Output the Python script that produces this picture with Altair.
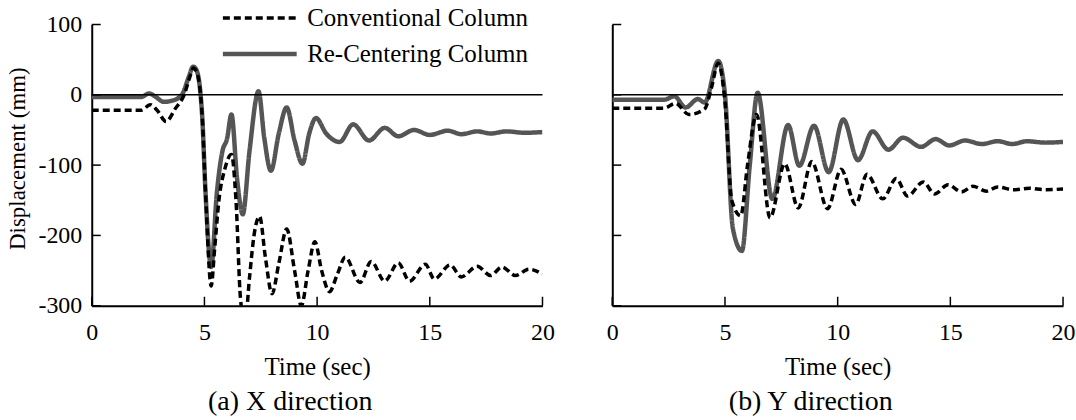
import altair as alt
import pandas as pd

FONT = "Liberation Serif, Times New Roman, serif"
CONV = "Conventional Column"
RC = "Re-Centering Column"

# ---- (a) X direction ----
ax_rc_t = [0, 2.2, 2.55, 2.8, 3.2, 3.6, 4.0, 4.3, 4.5, 4.65, 4.9, 5.05, 5.3, 5.55, 5.8, 6.0, 6.2, 6.45, 6.7,
           7.0, 7.4, 7.65, 7.95, 8.3, 8.65, 9.0, 9.35, 9.65, 9.95, 10.4, 11.0, 11.6, 12.3, 13.0, 13.6,
           14.3, 15.0, 15.8, 16.4, 17.1, 17.7, 18.4, 19.2, 20]
ax_rc_v = [-3, -3, 2, -2, -10, -8, 0, 25, 40, 35, -30, -140, -245, -140, -80, -63, -28, -120, -170,
           -80, 5, -60, -108, -55, -18, -65, -98, -55, -33, -55, -67, -42, -65, -47, -59,
           -50, -57, -51, -56, -52, -55, -52, -54, -53]

ax_cc_t = [0, 2.2, 2.6, 2.9, 3.3, 3.7, 4.1, 4.4, 4.5, 4.65, 4.9, 5.05, 5.3, 5.45, 5.65, 5.9, 6.2, 6.4,
           6.6, 6.8, 7.0, 7.2, 7.45, 7.7, 8.0, 8.3, 8.65, 9.0, 9.3, 9.6, 9.9, 10.2, 10.55, 10.9, 11.25,
           11.9, 12.4, 13.0, 13.6, 14.1, 14.8, 15.2, 15.9, 16.4, 17.1, 17.7, 18.2, 18.8, 19.4, 20]
ax_cc_v = [-22, -22, -14, -22, -38, -20, 0, 30, 38, 33, -30, -140, -272, -220, -148, -106, -85, -150,
           -290, -325, -260, -200, -173, -230, -283, -240, -191, -250, -300, -250, -209, -250, -280, -255, -231,
           -267, -237, -265, -239, -265, -241, -262, -242, -259, -244, -257, -245, -257, -248, -255]

# ---- (b) Y direction ----
by_rc_t = [0, 2.3, 2.75, 3.25, 3.8, 4.1, 4.7, 5.0, 5.35, 5.75, 6.1, 6.45, 7.1, 7.8, 8.3, 8.95, 9.6,
           10.25, 10.9, 11.55, 12.25, 12.9, 13.7, 14.35, 14.95, 15.65, 16.4, 17.1, 17.75, 18.4, 19.2, 20]
by_rc_v = [-7, -7, -2, -18, -6, -11, 48, 0, -190, -222, -100, 3, -148, -43, -101, -44, -110,
           -35, -93, -52, -78, -61, -74, -63, -72, -65, -70, -66, -70, -66, -68, -67]

by_cc_t = [0, 2.3, 2.8, 3.4, 4.1, 4.4, 4.7, 5.0, 5.3, 5.7, 6.0, 6.4, 7.0, 7.65, 8.25, 8.85, 9.55,
           10.15, 10.8, 11.3, 12.0, 12.6, 13.1, 13.8, 14.3, 14.9, 15.5, 16.0, 16.6, 17.1, 17.8, 18.5, 19.2, 20]
by_cc_v = [-19, -19, -12, -28, -20, 10, 45, -10, -150, -172, -100, -28, -175, -98, -161, -95, -162,
           -106, -156, -113, -148, -119, -144, -124, -141, -128, -138, -130, -137, -131, -135, -133, -135, -134]

x_ticks = [0, 5, 10, 15, 20]
y_ticks = [100, 0, -100, -200, -300]
zero_line = [0]

W, H = 452, 282


def frame(t_rc, v_rc, t_cc, v_cc):
    rows = [{"t": t, "v": v, "series": RC} for t, v in zip(t_rc, v_rc)]
    rows += [{"t": t, "v": v, "series": CONV} for t, v in zip(t_cc, v_cc)]
    return pd.DataFrame(rows)


def panel(df, title, left):
    xscale = alt.Scale(domain=[0, 20], nice=False, zero=False)
    yscale = alt.Scale(domain=[-300, 100], nice=False, zero=False)
    xaxis = alt.Axis(values=x_ticks, title="Time (sec)")
    if left:
        yaxis = alt.Axis(values=y_ticks, title="Displacement (mm)", titleY=134,
                         labelExpr="replace(datum.label, '\u2212', '-')")
        legend = alt.Legend(orient="none", legendX=156, legendY=-19, title=None,
                            symbolType="M-7.4,0H7.4", symbolSize=100, symbolStrokeWidth=2.5,
                            labelFont=FONT, labelFontSize=25, labelColor="black", labelOffset=35,
                            labelLimit=0, rowPadding=10, padding=0)
    else:
        yaxis = alt.Axis(values=y_ticks, labels=False, title=None)
        legend = None

    dom = [CONV, RC]
    lines = alt.Chart(df).mark_line(interpolate="monotone", clip=True).encode(
        x=alt.X("t:Q", scale=xscale, axis=xaxis),
        y=alt.Y("v:Q", scale=yscale, axis=yaxis),
        color=alt.Color("series:N", scale=alt.Scale(domain=dom, range=["black", "#555555"]), legend=legend),
        strokeDash=alt.StrokeDash("series:N", scale=alt.Scale(domain=dom, range=[[7, 4], [1, 0]]), legend=legend),
        strokeWidth=alt.StrokeWidth("series:N", scale=alt.Scale(domain=dom, range=[3.5, 4.5]), legend=None),
        order=alt.Order("series:N", sort="ascending"),
    )
    zero = alt.Chart(pd.DataFrame({"v": zero_line})).mark_rule(color="black", strokeWidth=1.5).encode(
        y=alt.Y("v:Q", scale=yscale, axis=yaxis))
    yt = alt.Chart(pd.DataFrame({"v": y_ticks})).mark_rule(color="black", strokeWidth=1.5).encode(
        y=alt.Y("v:Q", scale=yscale, axis=yaxis), x=alt.value(0), x2=alt.value(9))
    xt = alt.Chart(pd.DataFrame({"t": x_ticks})).mark_rule(color="black", strokeWidth=1.5).encode(
        x=alt.X("t:Q", scale=xscale, axis=xaxis), y=alt.value(H), y2=alt.value(H - 9))

    return alt.layer(lines, zero, yt, xt).properties(
        width=W, height=H,
        title=alt.TitleParams(title, orient="bottom", anchor="middle", frame="group", font=FONT,
                              fontSize=28, fontWeight="normal", color="black", dx=-27, offset=9),
    )


left = panel(frame(ax_rc_t, ax_rc_v, ax_cc_t, ax_cc_v), "(a) X direction", True)
right = panel(frame(by_rc_t, by_rc_v, by_cc_t, by_cc_v), "(b) Y direction", False)

chart = alt.hconcat(left, right, spacing=52).resolve_scale(
    color="independent", strokeDash="independent", strokeWidth="independent"
).resolve_legend(color="independent", strokeDash="independent").properties(
    padding={"left": 7, "top": 5, "right": 1, "bottom": 0}, background="white"
).configure_view(stroke=None).configure_axis(
    ticks=False, tickSize=0, grid=False, domainColor="black", domainWidth=2,
    labelFont=FONT, labelFontSize=24, labelColor="black", labelFlush=False,
    titleFont=FONT, titleFontWeight="normal", titleColor="black",
).configure_axisX(
    labelPadding=15, titleFontSize=25, titlePadding=10,
).configure_axisY(
    labelPadding=10, titleFontSize=23, titlePadding=8,
)

chart.save("out.html", embed_options={"renderer": "svg", "actions": False})
